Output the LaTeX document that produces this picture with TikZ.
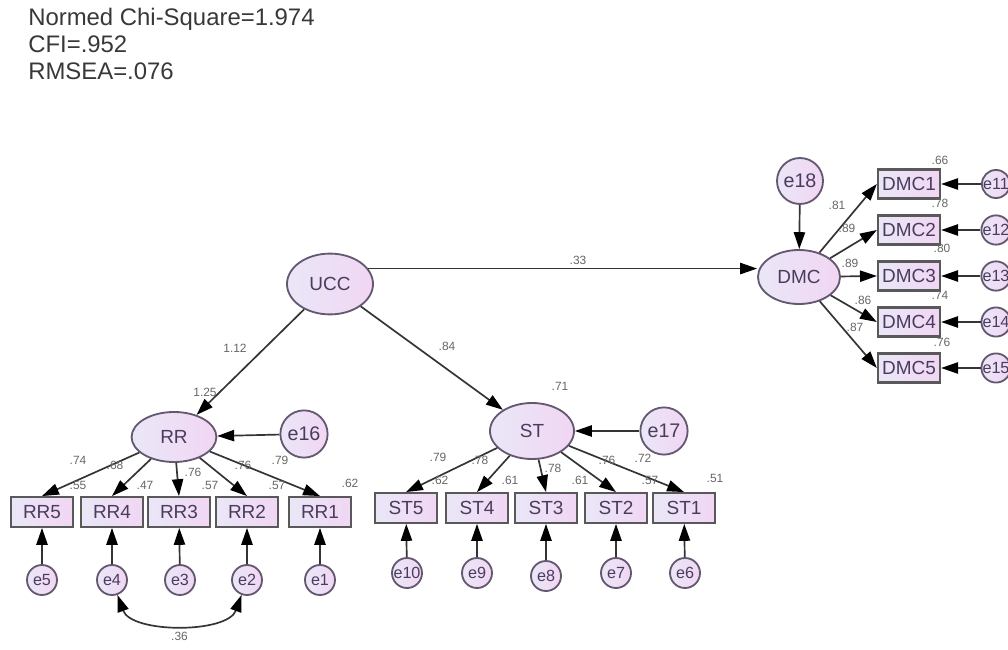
\documentclass[tikz,border=0pt]{standalone}
\usepackage{fontspec}
\setmainfont{Liberation Sans}
\usetikzlibrary{arrows.meta, positioning, calc, shapes.geometric}

\definecolor{lavL}{RGB}{234,231,247}
\definecolor{lavR}{RGB}{241,214,243}
\definecolor{rim}{RGB}{100,88,112}
\definecolor{ink}{RGB}{74,60,94}
\definecolor{wire}{RGB}{52,52,52}

\begin{document}
\begin{tikzpicture}[x=0.025cm, y=-0.025cm,
  %% Node styles
  latent/.style ={ellipse, draw=rim, line width=1.3pt, left color=lavL, right color=lavR,
                  text=ink, inner sep=0pt, font=\fontsize{13.5}{15}\selectfont},
  obsv/.style   ={draw=black!65, line width=1.6pt, left color=lavL, right color=lavR,
                  minimum width=1.55cm, minimum height=0.74cm, inner sep=0pt,
                  text=ink, font=\fontsize{13.5}{15}\selectfont},
  err/.style    ={circle, draw=rim, line width=1.3pt, left color=lavL, right color=lavR,
                  minimum size=0.75cm, inner sep=0pt, text=ink, font=\fontsize{11.5}{13}\selectfont},
  bigerr/.style ={err, minimum size=1.18cm, font=\fontsize{14}{16}\selectfont},
  %% Estimates
  est/.style    ={inner sep=0pt, text=black!60, font=\fontsize{8.5}{10}\selectfont},
  fit/.style    ={anchor=base west, inner sep=0pt, text=black!78, font=\fontsize{17}{20}\selectfont},
  %% Arrows
  arr/.style    ={-{Triangle[length=12pt, width=8pt, color=black]}, line width=1.2pt, draw=wire},
  cov/.style    ={{Triangle[length=12pt, width=8pt, color=black]}-{Triangle[length=12pt, width=8pt, color=black]},
                  line width=1.2pt, draw=wire}
]
\useasboundingbox (0,0) rectangle (1008,650);
\clip (0,0) rectangle (1008,650);

%% ── FIT INDICES ──────────────────────────────────────────────
\node[fit] (chi)   at (28, 26) {Normed Chi-Square=1.974};
\node[fit] (cfi)   at (28, 53) {CFI=.952};
\node[fit] (rmsea) at (28, 80) {RMSEA=.076};

%% ── LATENT VARIABLES ─────────────────────────────────────────
\node[latent, minimum width=2.15cm, minimum height=1.52cm] (ucc) at (330, 284) {UCC};
\node[latent, minimum width=2.12cm, minimum height=1.25cm] (rr)  at (174, 437) {RR};
\node[latent, minimum width=2.10cm, minimum height=1.40cm] (st)  at (532, 431) {ST};
\node[latent, minimum width=2.05cm, minimum height=1.35cm] (dmc) at (799, 277) {DMC};

\node[bigerr] (e16) at (304, 434) {e16};
\node[bigerr] (e17) at (664, 431) {e17};
\node[bigerr, minimum size=1.15cm] (e18) at (800, 181) {e18};

\draw[arr] (ucc) -- (rr);
\draw[arr] (ucc) -- (st);
\draw[arr] (ucc.22) -- (dmc.west |- ucc.22);
\draw[arr] (e16) -- (rr);
\draw[arr] (e17) -- (st);
\draw[arr] (e18) -- (dmc);

\node[est] (l112) at (235, 348) {1.12};
\node[est] (r125) at (205, 392) {1.25};
\node[est] (l84)  at (447, 346) {.84};
\node[est] (r71)  at (560, 386) {.71};
\node[est] (l33)  at (578, 260) {.33};

%% ── RR INDICATORS ────────────────────────────────────────────
\node[obsv] (rr5) at (42,  512) {RR5};
\node[obsv] (rr4) at (112, 512) {RR4};
\node[obsv] (rr3) at (179, 512) {RR3};
\node[obsv] (rr2) at (247, 512) {RR2};
\node[obsv] (rr1) at (320, 512) {RR1};

\node[err] (e5) at (42,  580) {e5};
\node[err] (e4) at (112, 580) {e4};
\node[err] (e3) at (180, 580) {e3};
\node[err] (e2) at (247, 580) {e2};
\node[err] (e1) at (320, 580) {e1};

\draw[arr] (rr) -- (rr5.north);
\draw[arr] (rr) -- (rr4.north);
\draw[arr] (rr) -- (rr3.north);
\draw[arr] (rr) -- (rr2.north);
\draw[arr] (rr) -- (rr1.north);
\draw[arr] (e5) -- (rr5);
\draw[arr] (e4) -- (rr4);
\draw[arr] (e3) -- (rr3);
\draw[arr] (e2) -- (rr2);
\draw[arr] (e1) -- (rr1);

%% e4 <-> e2 covariance along the bottom
\draw[cov] (e4.-70) to[out=-70, in=-110, looseness=0.85]
    node[midway, below=5pt, est] (c36) {.36} (e2.-110);

\node[est] (lrr5) at (78,  460) {.74};
\node[est] (lrr4) at (115, 465) {.68};
\node[est] (lrr3) at (193, 472) {.76};
\node[est] (lrr2) at (243, 465) {.76};
\node[est] (lrr1) at (280, 460) {.79};
\node[est] (rrr5) at (78,  485) {.55};
\node[est] (rrr4) at (145, 485) {.47};
\node[est] (rrr3) at (210, 485) {.57};
\node[est] (rrr2) at (277, 485) {.57};
\node[est] (rrr1) at (350, 483) {.62};

%% ── ST INDICATORS ────────────────────────────────────────────
\node[obsv] (st5) at (406, 508) {ST5};
\node[obsv] (st4) at (477, 508) {ST4};
\node[obsv] (st3) at (546, 508) {ST3};
\node[obsv] (st2) at (616, 508) {ST2};
\node[obsv] (st1) at (684, 508) {ST1};

\node[err] (e10) at (407, 573) {e10};
\node[err] (e9)  at (477, 573) {e9};
\node[err] (e8)  at (546, 576) {e8};
\node[err] (e7)  at (616, 573) {e7};
\node[err] (e6)  at (685, 573) {e6};

\draw[arr] (st) -- (st5.north);
\draw[arr] (st) -- (st4.north);
\draw[arr] (st) -- (st3.north);
\draw[arr] (st) -- (st2.north);
\draw[arr] (st) -- (st1.north);
\draw[arr] (e10) -- (st5);
\draw[arr] (e9)  -- (st4);
\draw[arr] (e8)  -- (st3);
\draw[arr] (e7)  -- (st2);
\draw[arr] (e6)  -- (st1);

\node[est] (lst5) at (438, 457) {.79};
\node[est] (lst4) at (480, 460) {.78};
\node[est] (lst3) at (553, 468) {.78};
\node[est] (lst2) at (607, 460) {.76};
\node[est] (lst1) at (643, 458) {.72};
\node[est] (rst5) at (440, 480) {.62};
\node[est] (rst4) at (510, 480) {.61};
\node[est] (rst3) at (580, 480) {.61};
\node[est] (rst2) at (650, 480) {.57};
\node[est] (rst1) at (715, 478) {.51};

%% ── DMC INDICATORS ───────────────────────────────────────────
\node[obsv, minimum height=0.72cm] (dmc1) at (909, 184) {DMC1};
\node[obsv, minimum height=0.72cm] (dmc2) at (909, 230) {DMC2};
\node[obsv, minimum height=0.72cm] (dmc3) at (909, 276) {DMC3};
\node[obsv, minimum height=0.72cm] (dmc4) at (909, 322) {DMC4};
\node[obsv, minimum height=0.72cm] (dmc5) at (909, 368) {DMC5};

\node[err, minimum size=0.7cm] (e11) at (996, 184) {e11};
\node[err, minimum size=0.7cm] (e12) at (996, 230) {e12};
\node[err, minimum size=0.7cm] (e13) at (996, 276) {e13};
\node[err, minimum size=0.7cm] (e14) at (996, 322) {e14};
\node[err, minimum size=0.7cm] (e15) at (996, 368) {e15};

\draw[arr] (dmc) -- (dmc1.west);
\draw[arr] (dmc) -- (dmc2.west);
\draw[arr] (dmc) -- (dmc3.west);
\draw[arr] (dmc) -- (dmc4.west);
\draw[arr] (dmc) -- (dmc5.west);
\draw[arr] (e11) -- (dmc1);
\draw[arr] (e12) -- (dmc2);
\draw[arr] (e13) -- (dmc3);
\draw[arr] (e14) -- (dmc4);
\draw[arr] (e15) -- (dmc5);

\node[est] (ldmc1) at (837, 205) {.81};
\node[est] (ldmc2) at (847, 228) {.89};
\node[est] (ldmc3) at (850, 263) {.89};
\node[est] (ldmc4) at (863, 300) {.86};
\node[est] (ldmc5) at (855, 327) {.87};
\node[est] (rdmc1) at (940, 160) {.66};
\node[est] (rdmc2) at (940, 203) {.78};
\node[est] (rdmc3) at (942, 248) {.80};
\node[est] (rdmc4) at (940, 295) {.74};
\node[est] (rdmc5) at (942, 342) {.76};

\end{tikzpicture}
\end{document}
